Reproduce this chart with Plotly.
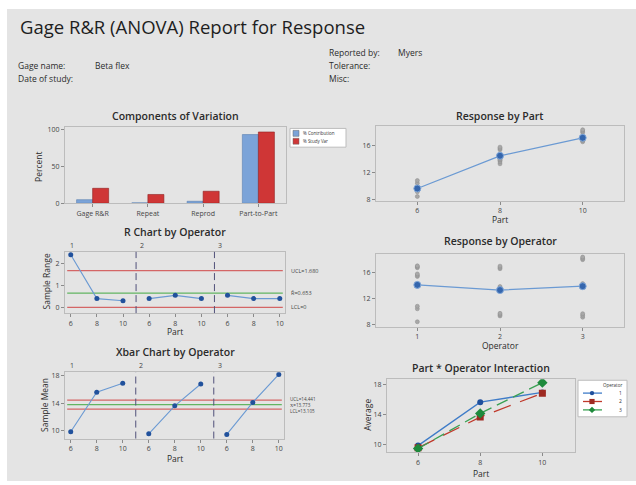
import plotly.graph_objects as go

W, H = 636, 485

# ---------------- data ----------------
components = ["Gage R&R", "Repeat", "Reprod", "Part-to-Part"]
pct_contribution = [4.9, 0.6, 2.7, 93.8]
pct_study_var = [20.4, 12.0, 16.4, 97.3]

parts = [6, 8, 10]
operators = [1, 2, 3]
part_tick_labels = ["6", "8", "10"]

# individual measurements, [part 6, part 8, part 10] x 3 replicates
meas_op1 = [[8.4, 10.4, 10.8], [15.4, 15.6, 15.8], [16.75, 16.9, 17.05]]
meas_op2 = [[9.3, 9.5, 9.7], [13.3, 13.6, 13.85], [16.6, 16.8, 17.0]]
meas_op3 = [[9.1, 9.4, 9.65], [13.9, 14.1, 14.3], [18.0, 18.2, 18.4]]

part_means = [9.6, 14.5, 17.2]
operator_means = [14.1, 13.3, 13.9]

xbar_op1 = [9.8, 15.6, 16.9]
xbar_op2 = [9.5, 13.6, 16.8]
xbar_op3 = [9.4, 14.1, 18.2]

range_op1 = [2.4, 0.4, 0.3]
range_op2 = [0.4, 0.55, 0.4]
range_op3 = [0.55, 0.4, 0.4]

r_ucl, r_bar, r_lcl = 1.680, 0.653, 0.0
x_ucl, x_dbar, x_lcl = 14.441, 13.773, 13.105

# ---------------- style ----------------
FONT = "Open Sans"
TXT = "#2b2b2b"
BLUE_BAR = "#7ba3d8"
RED_BAR = "#cf3636"
LINE_BLUE = "#6b9ad3"
MARK_BLUE = "#21519c"
CL_RED = "#d46666"
CL_GREEN = "#62b562"
DIV = "#50507a"


def dx(a, b):
    return [a / W, b / W]


def dy(top, bottom):
    return [1 - bottom / H, 1 - top / H]


def px(x):
    return x / W


def py(y):
    return 1 - y / H


def axis_style(**kw):
    d = dict(showline=True, linecolor="#bcbcbc", linewidth=1, mirror=True,
             ticks="outside", ticklen=3, tickcolor="#8a8a8a", tickwidth=1,
             tickfont=dict(family=FONT, size=7, color="#444"),
             showgrid=False, zeroline=False, fixedrange=True)
    d.update(kw)
    return d


fig = go.Figure()

# --- Components of Variation ---
fig.add_trace(go.Bar(x=components, y=pct_contribution, name="% Contribution",
                     marker=dict(color=BLUE_BAR, line=dict(color="#5a7fb0", width=0.6)),
                     xaxis="x", yaxis="y", showlegend=False))
fig.add_trace(go.Bar(x=components, y=pct_study_var, name="% Study Var",
                     marker=dict(color=RED_BAR, line=dict(color="#8f2020", width=0.6)),
                     xaxis="x", yaxis="y", showlegend=False))

# --- Response by Part / by Operator: individual points ---
all_meas = [meas_op1, meas_op2, meas_op3]
rp_x, rp_y, ro_x, ro_y = [], [], [], []
for oi, m in enumerate(all_meas):
    for pi, reps in enumerate(m):
        for v in reps:
            rp_x.append(parts[pi]); rp_y.append(v)
            ro_x.append(operators[oi]); ro_y.append(v)

GRAY_MK = dict(color="#a8a8a8", size=4, line=dict(color="#8a8a8a", width=0.5))
MEAN_MK = dict(color="#3566ad", size=7, line=dict(color="#7fa6d8", width=1))

fig.add_trace(go.Scatter(x=rp_x, y=rp_y, mode="markers", xaxis="x2", yaxis="y2",
                         marker=GRAY_MK, showlegend=False))
fig.add_trace(go.Scatter(x=parts, y=part_means, mode="lines+markers", xaxis="x2", yaxis="y2",
                         line=dict(color=LINE_BLUE, width=1.3), marker=MEAN_MK, showlegend=False))

fig.add_trace(go.Scatter(x=ro_x, y=ro_y, mode="markers", xaxis="x4", yaxis="y4",
                         marker=GRAY_MK, showlegend=False))
fig.add_trace(go.Scatter(x=operators, y=operator_means, mode="lines+markers", xaxis="x4", yaxis="y4",
                         line=dict(color=LINE_BLUE, width=1.3), marker=MEAN_MK, showlegend=False))

# --- R chart and Xbar chart by operator ---
ranges = [range_op1, range_op2, range_op3]
xbars = [xbar_op1, xbar_op2, xbar_op3]
idx_all, tick_all = [], []
for oi in range(3):
    idx = [oi * len(parts) + j for j in range(len(parts))]
    idx_all += idx
    tick_all += part_tick_labels
    fig.add_trace(go.Scatter(x=idx, y=ranges[oi], mode="lines+markers", xaxis="x3", yaxis="y3",
                             line=dict(color=LINE_BLUE, width=1.1),
                             marker=dict(color=MARK_BLUE, size=5), showlegend=False))
    fig.add_trace(go.Scatter(x=idx, y=xbars[oi], mode="lines+markers", xaxis="x5", yaxis="y5",
                             line=dict(color=LINE_BLUE, width=1.1),
                             marker=dict(color=MARK_BLUE, size=5), showlegend=False))

# --- Interaction ---
inter_styles = [
    dict(color="#3f7cc8", dash="solid", symbol="circle", size=6, mcolor="#1f4f9c"),
    dict(color="#c0392b", dash="18px,10px", symbol="square", size=7, mcolor="#9e2a22"),
    dict(color="#3aa053", dash="12px,6px", symbol="diamond", size=8, mcolor="#1e8a3c"),
]
for oi in range(3):
    s = inter_styles[oi]
    fig.add_trace(go.Scatter(x=parts, y=xbars[oi], mode="lines+markers", xaxis="x6", yaxis="y6",
                             line=dict(color=s["color"], width=1.3, dash=s["dash"]),
                             marker=dict(color=s["mcolor"], size=s["size"], symbol=s["symbol"]),
                             name=str(operators[oi]), showlegend=False))

# ---------------- layout / axes ----------------
layout = dict(
    width=W, height=H, margin=dict(l=0, r=0, t=0, b=0),
    paper_bgcolor="white", plot_bgcolor="white",
    barmode="group", bargap=0.42, bargroupgap=0.0,
    font=dict(family=FONT, color=TXT),
    showlegend=False,
)
layout["xaxis"] = axis_style(domain=dx(65, 286), anchor="y", range=[-0.5, 3.5])
layout["yaxis"] = axis_style(domain=dy(127, 204), anchor="x", range=[-0.3, 103.5],
                             tickvals=[0, 50, 100])
layout["xaxis2"] = axis_style(domain=dx(376, 624), anchor="y2", range=[5, 11], tickvals=parts)
layout["yaxis2"] = axis_style(domain=dy(126, 201), anchor="x2", range=[7.8, 18.9],
                              tickvals=[8, 12, 16])
layout["xaxis3"] = axis_style(domain=dx(65, 285), anchor="y3", range=[-0.22, 8.2],
                              tickvals=idx_all, ticktext=tick_all)
layout["yaxis3"] = axis_style(domain=dy(253, 315), anchor="x3", range=[-0.26, 2.53],
                              tickvals=[0, 1, 2])
layout["xaxis4"] = axis_style(domain=dx(376, 624), anchor="y4", range=[0.5, 3.5],
                              tickvals=operators)
layout["yaxis4"] = axis_style(domain=dy(255, 329), anchor="x4", range=[7.6, 18.9],
                              tickvals=[8, 12, 16])
layout["xaxis5"] = axis_style(domain=dx(65, 284), anchor="y5", range=[-0.22, 8.2],
                              tickvals=idx_all, ticktext=tick_all)
layout["yaxis5"] = axis_style(domain=dy(375, 442), anchor="x5", range=[8.8, 18.5],
                              tickvals=[10, 14, 18])
layout["xaxis6"] = axis_style(domain=dx(387, 575), anchor="y6", range=[5, 11.05],
                              tickvals=parts)
layout["yaxis6"] = axis_style(domain=dy(382, 456), anchor="x6", range=[8.9, 18.65],
                              tickvals=[10, 14, 18])

shapes = []
# report background panel
shapes.append(dict(type="rect", xref="paper", yref="paper", x0=px(7), x1=1, y0=0, y1=py(7),
                   fillcolor="#e4e4e4", line=dict(width=0), layer="below"))

# control limit lines and operator dividers
for ax, vals in (("3", (r_ucl, r_bar, r_lcl)), ("5", (x_ucl, x_dbar, x_lcl))):
    cols = (CL_RED, CL_GREEN, CL_RED)
    for v, c in zip(vals, cols):
        shapes.append(dict(type="line", xref=f"x{ax} domain", yref=f"y{ax}", x0=0.01, x1=0.99,
                           y0=v, y1=v, line=dict(color=c, width=1.3), layer="below"))
    for b in (2.5, 5.5):
        shapes.append(dict(type="line", xref=f"x{ax}", yref=f"y{ax} domain", x0=b, x1=b,
                           y0=0, y1=1, line=dict(color=DIV, width=1, dash="7px,4px")))

# manual legend: components of variation
shapes.append(dict(type="rect", xref="paper", yref="paper", x0=px(290), x1=px(346),
                   y0=py(147), y1=py(128), fillcolor="white", line=dict(color="#bcbcbc", width=1)))
for i, c in enumerate((BLUE_BAR, RED_BAR)):
    yc = 133 + i * 8
    shapes.append(dict(type="rect", xref="paper", yref="paper", x0=px(293), x1=px(299),
                       y0=py(yc + 3), y1=py(yc - 3), fillcolor=c, line=dict(color="#666", width=0.5)))

# manual legend: interaction
shapes.append(dict(type="rect", xref="paper", yref="paper", x0=px(578), x1=px(627),
                   y0=py(420), y1=py(383), fillcolor="white", line=dict(color="#bcbcbc", width=1)))
for i, s in enumerate(inter_styles):
    yc = 396 + i * 8.5
    shapes.append(dict(type="line", xref="paper", yref="paper", x0=px(583), x1=px(602),
                       y0=py(yc), y1=py(yc), line=dict(color=s["color"], width=1.3)))
    r = 2.6 if i else 2.2
    if s["symbol"] == "circle":
        shapes.append(dict(type="circle", xref="paper", yref="paper", x0=px(592 - r), x1=px(592 + r),
                           y0=py(yc + r), y1=py(yc - r), fillcolor=s["mcolor"], line=dict(width=0)))
    elif s["symbol"] == "square":
        shapes.append(dict(type="rect", xref="paper", yref="paper", x0=px(592 - r), x1=px(592 + r),
                           y0=py(yc + r), y1=py(yc - r), fillcolor=s["mcolor"], line=dict(width=0)))
    else:
        path = (f"M {px(592)} {py(yc - r - 0.6)} L {px(592 + r + 0.6)} {py(yc)} "
                f"L {px(592)} {py(yc + r + 0.6)} L {px(592 - r - 0.6)} {py(yc)} Z")
        shapes.append(dict(type="path", xref="paper", yref="paper", path=path,
                           fillcolor=s["mcolor"], line=dict(width=0)))

layout["shapes"] = shapes

ann = []


def text(t, x, y, size=9, xanchor="left", color=TXT, angle=0, weight="normal"):
    ann.append(dict(text=t, x=px(x), y=py(y), xref="paper", yref="paper", xanchor=xanchor,
                    yanchor="middle", showarrow=False, textangle=angle,
                    font=dict(family=FONT, size=size, color=color, weight=weight)))


# header
text("Gage R&R (ANOVA) Report for Response", 18, 25, size=18.5, color="#1e1e1e")
text("Reported by:", 327, 51, size=8.5)
text("Myers", 396, 51, size=8.5)
text("Gage name:", 16, 64, size=8.5)
text("Beta flex", 93, 64, size=8.5)
text("Tolerance:", 327, 64, size=8.5)
text("Date of study:", 16, 77, size=8.5)
text("Misc:", 327, 77, size=8.5)

# panel titles
text("Components of Variation", 175, 115, size=10.5, xanchor="center", weight=600)
text("Response by Part", 500, 115, size=10.5, xanchor="center", weight=600)
text("R Chart by Operator", 175, 233, size=10.5, xanchor="center", weight=600)
text("Response by Operator", 500, 242, size=10.5, xanchor="center", weight=600)
text("Xbar Chart by Operator", 175, 354, size=10.5, xanchor="center", weight=600)
text("Part * Operator Interaction", 481, 371, size=10.5, xanchor="center", weight=600)

# axis titles
text("Percent", 39, 167, size=8.5, xanchor="center", angle=-90)
text("Part", 500, 220, size=8.5, xanchor="center")
text("Sample Range", 46, 283, size=8.5, xanchor="center", angle=-90)
text("Part", 175, 334, size=8.5, xanchor="center")
text("Operator", 500, 348, size=8.5, xanchor="center")
text("Sample Mean", 45, 408, size=8.5, xanchor="center", angle=-90)
text("Part", 175, 462, size=8.5, xanchor="center")
text("Average", 368, 418, size=8.5, xanchor="center", angle=-90)
text("Part", 481, 477, size=8.5, xanchor="center")

# legend texts
text("% Contribution", 301, 133, size=4.5, color="#333")
text("% Study Var", 301, 141, size=4.5, color="#333")
text("Operator", 624, 388, size=4.5, xanchor="right", color="#333")
for i, o in enumerate(operators):
    text(str(o), 624, 396 + i * 8.5, size=5, xanchor="right", color="#333")

# operator section labels on R and Xbar charts
for ax, ylab in (("3", 246.5), ("5", 368)):
    for i, o in enumerate(operators):
        ann.append(dict(text=str(o), x=[0.05, 2.72, 5.72][i], y=py(ylab), xref=f"x{ax}",
                        yref="paper", xanchor="center", yanchor="middle", showarrow=False,
                        font=dict(family=FONT, size=7, color="#444")))

# control-limit labels
for ax, labels, fs in (("3", (("UCL=1.680", r_ucl, 0), ("R\u0304=0.653", r_bar, 0), ("LCL=0", r_lcl, 0)), 5.5),
                       ("5", (("UCL=14.441", x_ucl, 1.5), ("X\u033f=13.773", x_dbar, 0),
                              ("LCL=13.105", x_lcl, -1.5)), 4.6)):
    for t, v, sh in labels:
        ann.append(dict(text=t, x=1.02, y=v, xref=f"x{ax} domain", yref=f"y{ax}", yshift=sh,
                        xanchor="left", yanchor="middle", showarrow=False,
                        font=dict(family=FONT, size=fs, color="#444")))

layout["annotations"] = ann
fig.update_layout(**layout)
fig.write_html("out.html", config={"displayModeBar": False, "staticPlot": True},
               post_script="document.body.style.margin='0';document.body.style.overflow='hidden';")
